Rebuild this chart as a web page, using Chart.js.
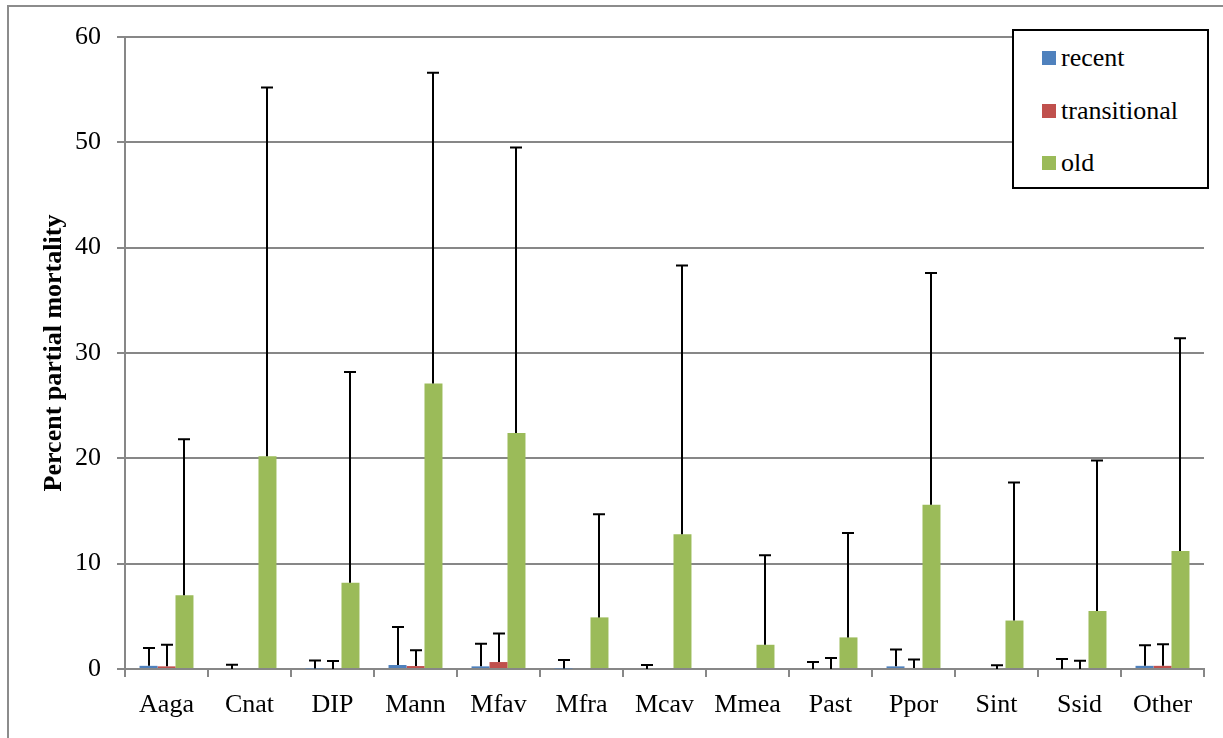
<!DOCTYPE html>
<html>
<head>
<meta charset="utf-8">
<script src="https://cdn.jsdelivr.net/npm/chart.js@4"></script>
<style>
  html, body { margin: 0; padding: 0; background: #fff; overflow: hidden; }
  #wrap { position: relative; width: 1223px; height: 738px; }
  #legend {
    position: absolute; left: 1012px; top: 29px; width: 197px; height: 160px;
    box-sizing: border-box; border: 2px solid #000; background: #fff;
    font-family: "Liberation Serif", "Times New Roman", serif; font-size: 26px; color: #000;
  }
  #legend .row { position: absolute; left: 28px; height: 30px; line-height: 30px; white-space: nowrap; }
  #legend .sw { display: inline-block; width: 14px; height: 14px; margin-right: 5px; vertical-align: 1px; }
</style>
</head>
<body>
<div id="wrap">
  <canvas id="chart" width="1223" height="738"></canvas>
  <div id="legend"></div>
</div>
<script>
// Data
const categories = ["Aaga", "Cnat", "DIP", "Mann", "Mfav", "Mfra", "Mcav", "Mmea", "Past", "Ppor", "Sint", "Ssid", "Other"];
const recent       = [0.3, 0, 0.05, 0.38, 0.25, 0.05, 0, 0, 0, 0.25, 0, 0, 0.3];
const transitional = [0.25, 0, 0, 0.28, 0.66, 0, 0, 0, 0, 0.1, 0, 0, 0.3];
const old          = [7.0, 20.2, 8.2, 27.1, 22.4, 4.9, 12.8, 2.3, 3.0, 15.6, 4.6, 5.5, 11.2];
// upper error (plus only)
const recentErr       = [1.7, 0.41, 0.75, 3.6, 2.15, 0.8, 0.38, null, 0.66, 1.6, null, 0.95, 1.95];
const transitionalErr = [2.05, null, 0.77, 1.5, 2.7, null, null, null, 1.04, 0.8, 0.35, 0.79, 2.05];
const oldErr          = [14.8, 35.0, 20.0, 29.5, 27.1, 9.8, 25.5, 8.5, 9.9, 22.0, 13.1, 14.3, 20.2];
const yTicks = [0, 10, 20, 30, 40, 50, 60];

const seriesNames = ["recent", "transitional", "old"];
const seriesColors = ["#4F81BD", "#C0504D", "#9BBB59"];
const FONT = "'Liberation Serif', 'Times New Roman', serif";
const GRID = "#878787";

// plus-only error bars with caps
const errorBars = {
  id: "errorBars",
  afterDatasetsDraw(chart) {
    const ctx = chart.ctx;
    const yScale = chart.scales.y;
    ctx.save();
    ctx.strokeStyle = "#000";
    ctx.lineWidth = 2;
    chart.data.datasets.forEach((ds, i) => {
      const meta = chart.getDatasetMeta(i);
      meta.data.forEach((bar, j) => {
        const e = ds.errors[j];
        if (e == null) return;
        const yTop = yScale.getPixelForValue(ds.data[j] + e);
        const x = Math.round(bar.x);
        ctx.beginPath();
        ctx.moveTo(x, bar.y);
        ctx.lineTo(x, yTop);
        ctx.moveTo(x - 6, yTop);
        ctx.lineTo(x + 6, yTop);
        ctx.stroke();
      });
    });
    ctx.restore();
  }
};

// outer chart-area frame (partly cropped in the reference)
const frame = {
  id: "frame",
  beforeDraw(chart) {
    const ctx = chart.ctx;
    ctx.save();
    ctx.strokeStyle = "#8c8c8c";
    ctx.lineWidth = 2;
    ctx.beginPath();
    ctx.moveTo(8, 738);
    ctx.lineTo(8, 6);
    ctx.lineTo(1223, 6);
    ctx.stroke();
    ctx.restore();
  }
};

const errs = [recentErr, transitionalErr, oldErr];
const vals = [recent, transitional, old];

const chart = new Chart(document.getElementById("chart"), {
  type: "bar",
  data: {
    labels: categories,
    datasets: seriesNames.map((name, i) => ({
      label: name,
      data: vals[i],
      errors: errs[i],
      backgroundColor: seriesColors[i],
      borderWidth: 0,
      barPercentage: 1,
      categoryPercentage: 0.65
    }))
  },
  options: {
    responsive: false,
    animation: false,
    layout: { padding: { left: 0, right: 19, top: 37, bottom: 0 } },
    plugins: { legend: { display: false }, tooltip: { enabled: false } },
    scales: {
      x: {
        grid: { display: true, drawOnChartArea: false, drawTicks: true, tickLength: 8, color: GRID, lineWidth: 2 },
        border: { display: true, color: GRID, width: 2 },
        ticks: { color: "#000", font: { family: FONT, size: 26 }, padding: 13, maxRotation: 0, autoSkip: false },
        afterFit(s) { s.height = 69; }
      },
      y: {
        min: 0, max: 60,
        afterBuildTicks(s) { s.ticks = yTicks.map(v => ({ value: v })); },
        grid: { color: GRID, lineWidth: 2, tickLength: 8, drawTicks: true },
        border: { display: true, color: GRID, width: 2 },
        ticks: { color: "#000", font: { family: FONT, size: 26 }, padding: 16 },
        title: {
          display: true, text: "Percent partial mortality", color: "#000",
          font: { family: FONT, size: 26, weight: "bold" }, padding: { top: 39, bottom: 0 }
        },
        afterFit(s) { s.width = 125; }
      }
    }
  },
  plugins: [frame, errorBars]
});

// legend box, built from the datasets
const legend = document.getElementById("legend");
const rowTops = [12, 65, 117];
chart.data.datasets.forEach((ds, i) => {
  const row = document.createElement("div");
  row.className = "row";
  row.style.top = rowTops[i] + "px";
  row.innerHTML = '<span class="sw" style="background:' + ds.backgroundColor + '"></span>' + ds.label;
  legend.appendChild(row);
});
</script>
</body>
</html>
